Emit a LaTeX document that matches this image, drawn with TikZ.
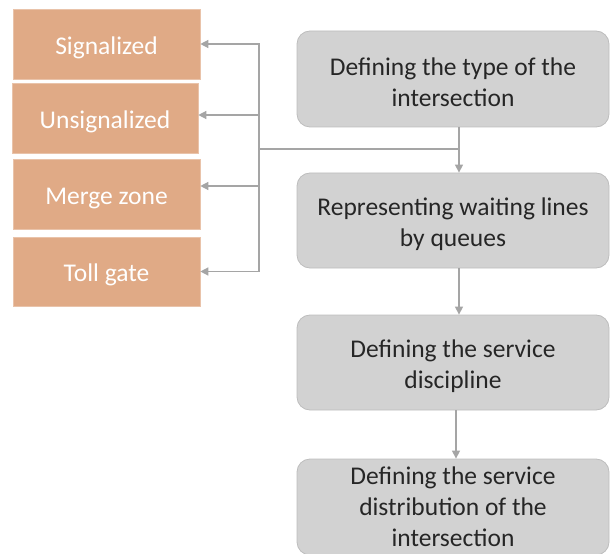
\documentclass[tikz,border=0pt]{standalone}
\usepackage{fontspec}
\setmainfont{Carlito}
\usetikzlibrary{arrows.meta}
\definecolor{orangefill}{HTML}{E0AA86}
\definecolor{grayfill}{HTML}{D2D2D2}
\definecolor{grayedge}{HTML}{BDBDBD}
\definecolor{linegray}{HTML}{A5A5A5}
\definecolor{textdark}{HTML}{262626}
\newcommand{\tup}{\rule{0pt}{25bp}}
\tikzset{
  obox/.style={fill=orangefill, draw=orangefill!70!white, line width=0.6bp, text=white, minimum width=187bp, minimum height=70bp, inner sep=0pt, font=\fontsize{25.6}{31}\selectfont},
  gbox/.style={fill=grayfill, draw=grayedge, line width=0.8bp, rounded corners=13bp, minimum width=312bp, minimum height=96bp, inner sep=0pt, align=center, text=textdark, font=\fontsize{25.6}{31}\selectfont},
  arr/.style={draw=linegray, line width=1.3bp, -{Triangle[length=8bp,width=8bp]}},
  ln/.style={draw=linegray, line width=1.3bp}
}
\begin{document}
\begin{tikzpicture}[x=1bp,y=-1bp]
\useasboundingbox (0,0) rectangle (610,554);
\clip (0,0) rectangle (610,554);
\node[obox] (o1) at (106.5,44) {\tup Signalized};
\node[obox, minimum width=186bp] (o2) at (105,118) {\tup Unsignalized};
\node[obox] (o3) at (106.5,194) {\tup Merge zone};
\node[obox, minimum height=69bp] (o4) at (106.5,271.5) {\tup Toll gate};
\node[gbox] (g1) at (453,79) {\tup Defining the type of the\\intersection};
\node[gbox, minimum height=95bp] (g2) at (453,220.5) {\tup Representing waiting lines\\by queues};
\node[gbox, minimum height=95bp] (g3) at (453,362.5) {\tup Defining the service\\discipline};
\node[gbox] (g4) at (453,507) {Defining the service\\distribution of the\\intersection};
\coordinate (a1) at ([xshift=6bp]g1.south);
\coordinate (a2) at ([xshift=6bp]g2.north);
\coordinate (b1) at ([xshift=6bp]g2.south);
\coordinate (b2) at ([xshift=6bp]g3.north);
\coordinate (c1) at ([xshift=3bp]g3.south);
\coordinate (c2) at ([xshift=3bp]g4.north);
\coordinate (bus) at (259,149);
\draw[arr] (a1) -- (a2);
\draw[arr] (b1) -- (b2);
\draw[arr] (c1) -- (c2);
\draw[ln] (a1 |- bus) -- (bus);
\draw[arr] (bus) |- (o1.east);
\draw[arr] (bus) |- ([yshift=3bp]o2.east);
\draw[arr] (bus) |- ([yshift=8bp]o3.east);
\draw[arr] (bus) |- (o4.east);
\end{tikzpicture}
\end{document}
